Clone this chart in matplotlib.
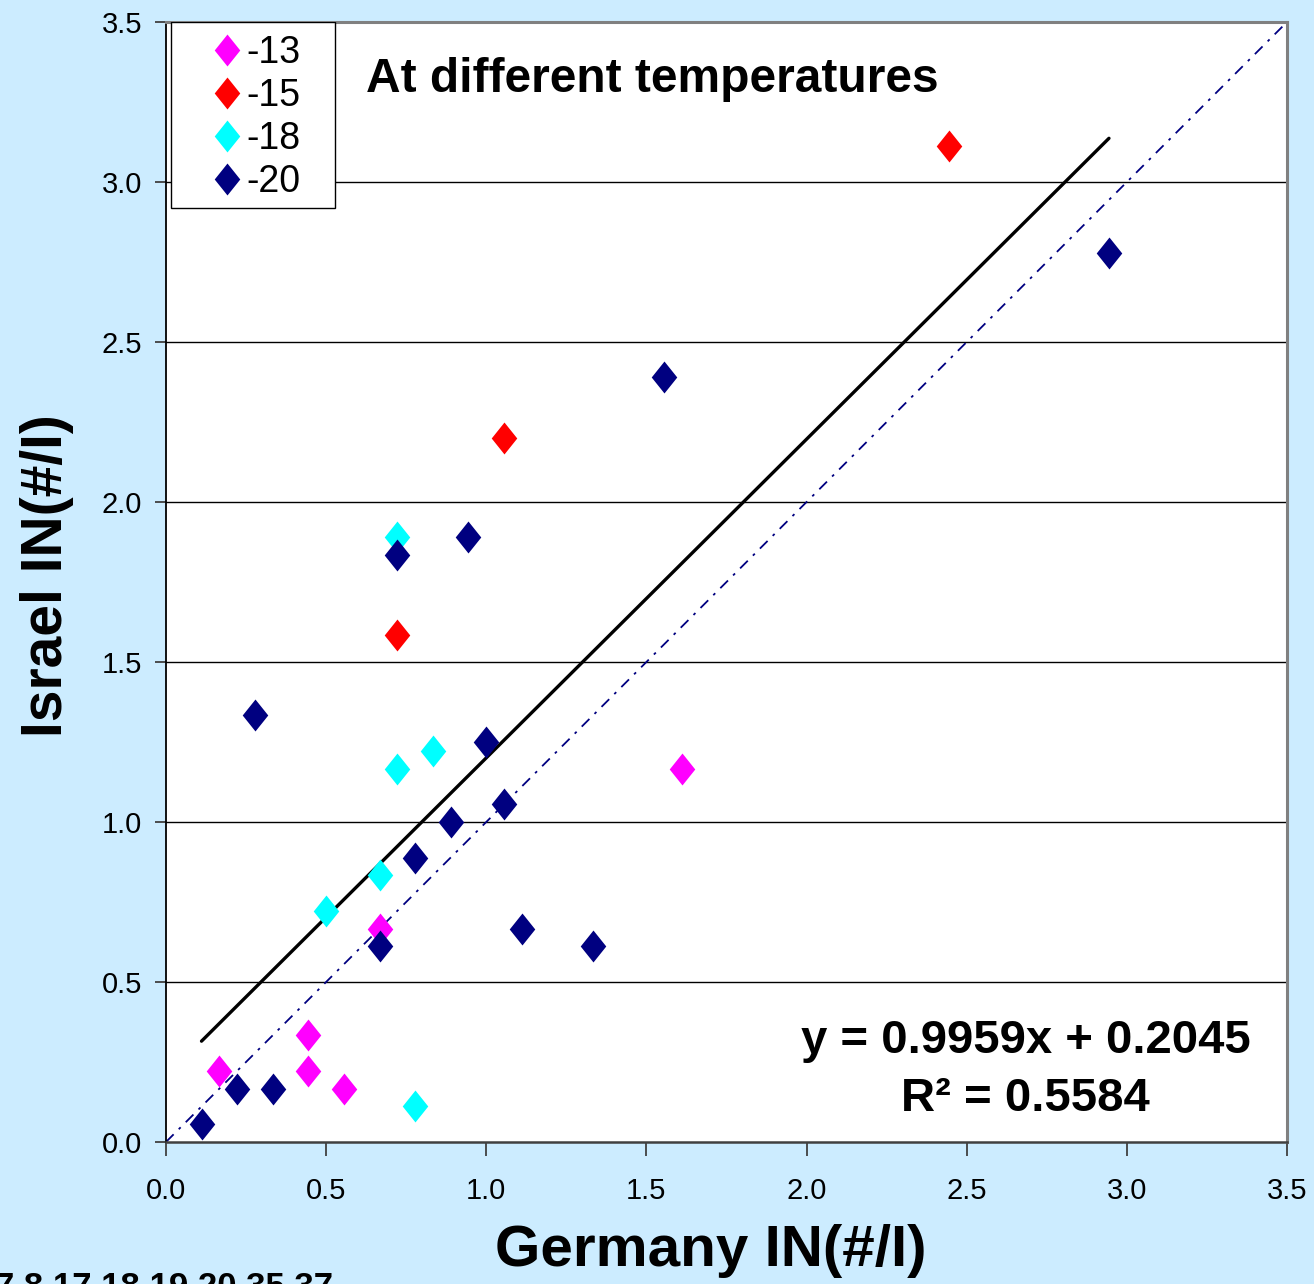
import matplotlib.pyplot as plt
from matplotlib.path import Path
from matplotlib.patches import Rectangle
import numpy as np

# ice nucleus counts, Germany vs Israel, grouped by temperature
labels = ['-13', '-15', '-18', '-20']
colors = ['#FF00FF', '#FF0000', '#00FFFF', '#000080']

x_13 = [0.167, 0.444, 0.444, 0.556, 0.667, 1.611]
y_13 = [0.222, 0.333, 0.222, 0.167, 0.667, 1.167]

x_15 = [2.444, 1.056, 0.722]
y_15 = [3.111, 2.200, 1.583]

x_18 = [0.722, 0.833, 0.722, 0.667, 0.500, 0.778]
y_18 = [1.889, 1.222, 1.167, 0.833, 0.722, 0.111]

x_20 = [0.111, 0.222, 0.333, 0.278, 0.667, 0.722, 0.944, 1.000,
        0.889, 0.778, 1.056, 1.111, 1.333, 1.556, 2.944]
y_20 = [0.056, 0.167, 0.167, 1.333, 0.611, 1.833, 1.889, 1.250,
        1.000, 0.889, 1.056, 0.667, 0.611, 2.389, 2.778]

slope = 0.9959
intercept = 0.2045
r_squared = 0.5584

ticks = [0.0, 0.5, 1.0, 1.5, 2.0, 2.5, 3.0, 3.5]

bg = '#CCECFF'
diamond = Path([(0, 1), (0.8, 0), (0, -1), (-0.8, 0), (0, 1)],
               [Path.MOVETO, Path.LINETO, Path.LINETO, Path.LINETO, Path.CLOSEPOLY])

fig = plt.figure(figsize=(13.14, 12.84), dpi=100, facecolor=bg)
ax = fig.add_axes([0.1263, 0.1106, 0.8532, 0.8723])
ax.set_facecolor('white')

ax.set_xlim(0, 3.5)
ax.set_ylim(0, 3.5)
ax.set_xticks(ticks)
ax.set_yticks(ticks)
ax.set_xticklabels(['%.1f' % t for t in ticks])
ax.set_yticklabels(['%.1f' % t for t in ticks])

for t in ticks[1:-1]:
    ax.axhline(t, color='black', lw=1.0, zorder=1)

# 1:1 line
ax.plot([0, 3.5], [0, 3.5], color='#000080', lw=1.3,
        linestyle=(0, (6, 4, 1.5, 4)), zorder=2)

all_x = x_13 + x_15 + x_18 + x_20
x_fit = np.array([min(all_x), max(all_x)])
ax.plot(x_fit, slope * x_fit + intercept, color='black', lw=2.4, zorder=3,
        solid_capstyle='round')

series = [(x_13, y_13), (x_15, y_15), (x_18, y_18), (x_20, y_20)]
for (xs, ys), lab, c in zip(series, labels, colors):
    ax.plot(xs, ys, linestyle='none', marker=diamond, markersize=23,
            color=c, markeredgewidth=0, label=lab, zorder=4)

for side in ['top', 'right']:
    ax.spines[side].set_color('#808080')
    ax.spines[side].set_linewidth(2.2)
ax.spines['left'].set_color('black')
ax.spines['left'].set_linewidth(1.3)
ax.spines['bottom'].set_color('#404040')
ax.spines['bottom'].set_linewidth(1.8)

ax.tick_params(axis='x', direction='out', length=10, width=1.3, color='#404040', pad=15)
ax.tick_params(axis='y', direction='out', length=8, width=1.3, color='#404040', pad=9)
for lbl in ax.get_xticklabels() + ax.get_yticklabels():
    lbl.set_fontfamily('Liberation Sans')
    lbl.set_fontsize(21)

ax.set_xlabel('Germany IN(#/I)', fontfamily='Liberation Sans', fontsize=42, fontweight='bold')
ax.set_ylabel('Israel IN(#/I)', fontfamily='Liberation Sans', fontsize=41, fontweight='bold')
ax.xaxis.set_label_coords(0.486, -0.073)
ax.yaxis.set_label_coords(-0.082, 0.506)

ax.text(0.178, 0.9375, 'At different temperatures', transform=ax.transAxes,
        fontfamily='Liberation Sans', fontsize=34.5, fontweight='bold',
        ha='left', va='baseline')

ax.text(0.767, 0.028, 'y = %.4fx + %.4f\nR\u00b2 = %.4f' % (slope, intercept, r_squared),
        transform=ax.transAxes, fontfamily='Liberation Sans', fontsize=34,
        fontweight='bold', ha='center', va='baseline', multialignment='center',
        linespacing=1.4)

# legend box drawn separately so it can be wider than its content
ax.add_patch(Rectangle((0.0045, 0.834), 0.146, 0.166, transform=ax.transAxes,
                       facecolor='white', edgecolor='black', lw=1.0, zorder=5))
leg = ax.legend(loc='upper left', bbox_to_anchor=(0.042, 0.988), frameon=False,
                borderpad=0, borderaxespad=0, handlelength=0.75, handletextpad=0.15,
                labelspacing=0.18, numpoints=1,
                prop={'family': 'Liberation Sans', 'size': 27})
leg.set_zorder(6)

fig.text(-0.004, -0.0101, '7 8 17 18 19 20 35 37', fontfamily='Liberation Sans',
         fontsize=25, fontweight='bold', ha='left', va='baseline')

fig.savefig('out.png', dpi=100, facecolor=bg)
